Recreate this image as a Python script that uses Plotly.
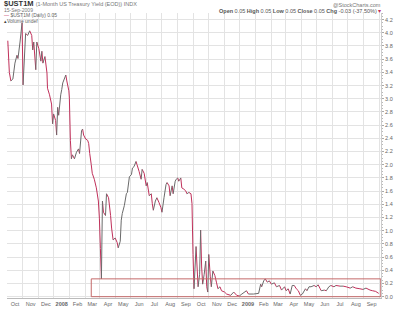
import plotly.graph_objects as go

dates = [
"2007-09-17","2007-09-20","2007-09-23","2007-09-27","2007-10-01","2007-10-05","2007-10-07","2007-10-11","2007-10-15","2007-10-17",
"2007-10-22","2007-10-26","2007-10-30","2007-11-03","2007-11-05","2007-11-07","2007-11-11","2007-11-13","2007-11-17","2007-11-21",
"2007-11-23","2007-11-25","2007-11-29","2007-12-03","2007-12-04","2007-12-08","2007-12-12","2007-12-14","2007-12-16","2007-12-20",
"2007-12-22","2007-12-24","2007-12-26","2007-12-30","2008-01-01","2008-01-03","2008-01-09","2008-01-11","2008-01-15","2008-01-16",
"2008-01-18","2008-01-20","2008-01-22","2008-01-26","2008-01-30","2008-02-03","2008-02-05","2008-02-09","2008-02-11","2008-02-13",
"2008-02-17","2008-02-21","2008-02-23","2008-02-25","2008-02-28","2008-03-01","2008-03-05","2008-03-09","2008-03-13","2008-03-15",
"2008-03-17","2008-03-19","2008-03-21","2008-03-23","2008-03-27","2008-03-29","2008-04-02","2008-04-06","2008-04-08","2008-04-11",
"2008-04-15","2008-04-19","2008-04-21","2008-04-25","2008-04-27","2008-04-29","2008-05-03","2008-05-07","2008-05-09","2008-05-13",
"2008-05-17","2008-05-19","2008-05-22","2008-05-26","2008-05-28","2008-05-30","2008-06-01","2008-06-05","2008-06-07","2008-06-11",
"2008-06-15","2008-06-17","2008-06-21","2008-06-25","2008-06-27","2008-06-29","2008-07-03","2008-07-06","2008-07-10","2008-07-14",
"2008-07-16","2008-07-20","2008-07-24","2008-07-26","2008-07-30","2008-08-01","2008-08-05","2008-08-07","2008-08-11","2008-08-13",
"2008-08-16","2008-08-18","2008-08-22","2008-08-24","2008-08-28","2008-09-01","2008-09-03","2008-09-07","2008-09-11","2008-09-13",
"2008-09-15","2008-09-17","2008-09-21","2008-09-23","2008-09-25","2008-09-28","2008-09-30","2008-10-02","2008-10-04","2008-10-07",
"2008-10-10","2008-10-12","2008-10-14","2008-10-16","2008-10-19","2008-10-21","2008-10-24","2008-10-28","2008-10-31","2008-11-03",
"2008-11-07","2008-11-10","2008-11-16","2008-11-20","2008-11-28","2008-12-04","2008-12-10","2008-12-15","2008-12-20","2008-12-29",
"2009-01-02","2009-01-12","2009-01-22","2009-01-26","2009-01-28","2009-02-01","2009-02-04","2009-02-08","2009-02-12","2009-02-16",
"2009-02-22","2009-02-26","2009-03-04","2009-03-08","2009-03-14","2009-03-17","2009-03-21","2009-03-25","2009-03-29","2009-04-02",
"2009-04-06","2009-04-10","2009-04-14","2009-04-18","2009-04-24","2009-04-27","2009-05-01","2009-05-05","2009-05-11","2009-05-15",
"2009-05-19","2009-05-23","2009-05-25","2009-05-31","2009-06-04","2009-06-09","2009-06-13","2009-06-19","2009-06-23","2009-07-01",
"2009-07-07","2009-07-13","2009-07-21","2009-07-26","2009-08-01","2009-08-09","2009-08-15","2009-08-21","2009-08-29","2009-09-03",
"2009-09-09","2009-09-15",
]
yields = [
3.88,3.40,3.27,3.30,3.54,3.66,3.61,3.86,4.15,3.21,
3.99,3.96,4.03,3.96,3.74,3.86,3.44,3.86,3.76,3.57,
3.72,3.54,3.64,3.39,3.16,3.06,2.92,2.62,2.77,2.67,
2.45,2.87,2.75,3.06,3.14,3.24,3.36,3.27,3.12,3.01,
2.37,2.09,2.15,2.09,2.19,2.24,2.17,2.52,2.54,2.45,
2.39,2.37,2.32,2.17,2.00,1.87,1.78,1.65,1.45,1.19,
0.73,0.27,1.45,1.28,1.23,1.56,1.50,1.23,1.04,0.86,
0.89,0.82,0.74,0.84,1.16,1.26,1.38,1.56,1.58,1.82,
1.85,1.95,1.97,2.05,2.00,1.95,1.90,1.78,1.93,1.87,
1.68,1.73,1.53,1.56,1.41,1.31,1.45,1.50,1.43,1.35,
1.28,1.50,1.70,1.73,1.68,1.53,1.68,1.56,1.75,1.78,
1.80,1.75,1.80,1.65,1.63,1.60,1.56,1.58,1.56,1.41,
0.64,0.12,0.76,0.45,0.15,0.34,1.01,0.45,0.19,0.34,
0.54,0.15,0.07,0.64,0.30,0.15,0.39,0.32,0.22,0.12,
0.15,0.09,0.07,0.04,0.02,0.07,0.02,0.01,0.04,0.09,
0.04,0.04,0.05,0.19,0.15,0.24,0.27,0.22,0.24,0.19,
0.21,0.15,0.17,0.10,0.15,0.09,0.12,0.04,0.17,0.17,
0.12,0.09,0.02,0.04,0.12,0.09,0.15,0.15,0.17,0.15,
0.18,0.12,0.09,0.10,0.09,0.15,0.17,0.15,0.17,0.16,
0.16,0.15,0.13,0.15,0.13,0.12,0.11,0.13,0.10,0.09,
0.08,0.05,
]

month_ticks = ["2007-10-01","2007-11-01","2007-12-01","2008-01-01","2008-02-01","2008-03-01","2008-04-01",
               "2008-05-01","2008-06-01","2008-07-01","2008-08-01","2008-09-01","2008-10-01","2008-11-01",
               "2008-12-01","2009-01-01","2009-02-01","2009-03-01","2009-04-01","2009-05-01","2009-06-01",
               "2009-07-01","2009-08-01","2009-09-01"]
month_labels = ["Oct","Nov","Dec","<b>2008</b>","Feb","Mar","Apr","May","Jun","Jul","Aug","Sep","Oct","Nov",
                "Dec","<b>2009</b>","Feb","Mar","Apr","May","Jun","Jul","Aug","Sep"]
grid_days = ["2007-09-16","2007-10-16","2007-11-16","2007-12-16","2008-01-16","2008-02-16","2008-03-16",
             "2008-04-16","2008-05-16","2008-06-16","2008-07-16","2008-08-16","2008-09-16","2008-10-16",
             "2008-11-16","2008-12-16","2009-01-16","2009-02-16","2009-03-16","2009-04-16","2009-05-16",
             "2009-06-16","2009-07-16","2009-08-16","2009-09-16"]
y_ticks = [round(i * 0.2, 1) for i in range(22)]

box_start = "2008-02-28"
box_end = "2009-09-19"
box_top = 0.27

# StockCharts-style: up segments grey, down segments red
up_x, up_y, dn_x, dn_y = [], [], [], []
for i in range(len(yields) - 1):
    seg_x = [dates[i], dates[i + 1], None]
    seg_y = [yields[i], yields[i + 1], None]
    if yields[i + 1] >= yields[i]:
        up_x += seg_x; up_y += seg_y
    else:
        dn_x += seg_x; dn_y += seg_y

fig = go.Figure()
fig.add_trace(go.Scatter(x=dn_x, y=dn_y, mode="lines", line=dict(color="#c0305a", width=1),
                         hoverinfo="skip", showlegend=False))
fig.add_trace(go.Scatter(x=up_x, y=up_y, mode="lines", line=dict(color="#6a6a6a", width=1),
                         hoverinfo="skip", showlegend=False))

fig.add_shape(type="rect", xref="x", yref="y", x0=box_start, x1=box_end, y0=0, y1=box_top,
              line=dict(color="#c46a6a", width=1), fillcolor="rgba(0,0,0,0)")

W, H = 400, 314
L, R, T, B = 7, 17, 13, 10
pw, ph = W - L - R, H - T - B


def px(x):
    return (x - L) / pw


def py(y):
    return (H - B - y) / ph


FONT = "Liberation Sans, Arial, sans-serif"
anns = [
    dict(x=px(2), y=py(3.5), text="<b>$UST1M</b> <span style='font-size:5.5px;color:#777'>(1-Month US Treasury Yield (EOD)) INDX</span>",
         font=dict(size=7.5, color="#333")),
    dict(x=px(2), y=py(9.6), text="15-Sep-2009", font=dict(size=5, color="#777")),
    dict(x=px(2), y=py(15.3), text="<span style='color:#c0305a'>—</span> $UST1M (Daily) 0.05", font=dict(size=5, color="#666")),
    dict(x=px(2), y=py(21), text="<span style='color:#444'>▴</span>Volume undef", font=dict(size=5, color="#666")),
]
for a in anns:
    a.update(xref="paper", yref="paper", xanchor="left", yanchor="middle", showarrow=False)
    a["font"]["family"] = FONT
    fig.add_annotation(**a)

fig.add_annotation(x=px(385), y=py(4.5), xref="paper", yref="paper", xanchor="right", yanchor="middle",
                   showarrow=False, text="@StockCharts.com", font=dict(size=5.5, color="#777", family=FONT))
fig.add_annotation(x=px(385), y=py(11), xref="paper", yref="paper", xanchor="right", yanchor="middle",
                   showarrow=False,
                   text="<b>Open</b> 0.05 <b>High</b> 0.05 <b>Low</b> 0.05 <b>Close</b> 0.05 <b>Chg</b> -0.03 (-37.50%) <span style='color:#c0305a'>▾</span>",
                   font=dict(size=5.5, color="#555", family=FONT))

fig.update_layout(
    width=W, height=H,
    margin=dict(l=L, r=R, t=T, b=B, pad=0),
    paper_bgcolor="white", plot_bgcolor="white",
    font=dict(family=FONT, size=6, color="#666"),
    xaxis=dict(
        type="date", range=["2007-09-15 10:00", "2009-09-19 12:00"],
        tickmode="array", tickvals=month_ticks, ticktext=month_labels,
        showgrid=False, ticks="", tickfont=dict(size=5.5, color="#666"),
        showline=True, linecolor="#bbbbbb", linewidth=1, mirror=False,
        minor=dict(tickmode="array", tickvals=grid_days, showgrid=True, gridcolor="#e3e3e3", gridwidth=1, ticks=""),
        zeroline=False, fixedrange=True,
    ),
    yaxis=dict(
        range=[-0.02, 4.3], side="right",
        tickmode="array", tickvals=y_ticks, tickformat=".1f",
        showgrid=True, gridcolor="#e3e3e3", gridwidth=1,
        ticks="outside", ticklen=2, tickcolor="#aaaaaa",
        minor=dict(dtick=0.05, ticks="outside", ticklen=1, tickcolor="#bbbbbb", showgrid=False),
        showline=True, linecolor="#cccccc", linewidth=1,
        tickfont=dict(size=5.5, color="#666"),
        zeroline=False, fixedrange=True,
    ),
    showlegend=False,
)

fig.write_html("out.html")
